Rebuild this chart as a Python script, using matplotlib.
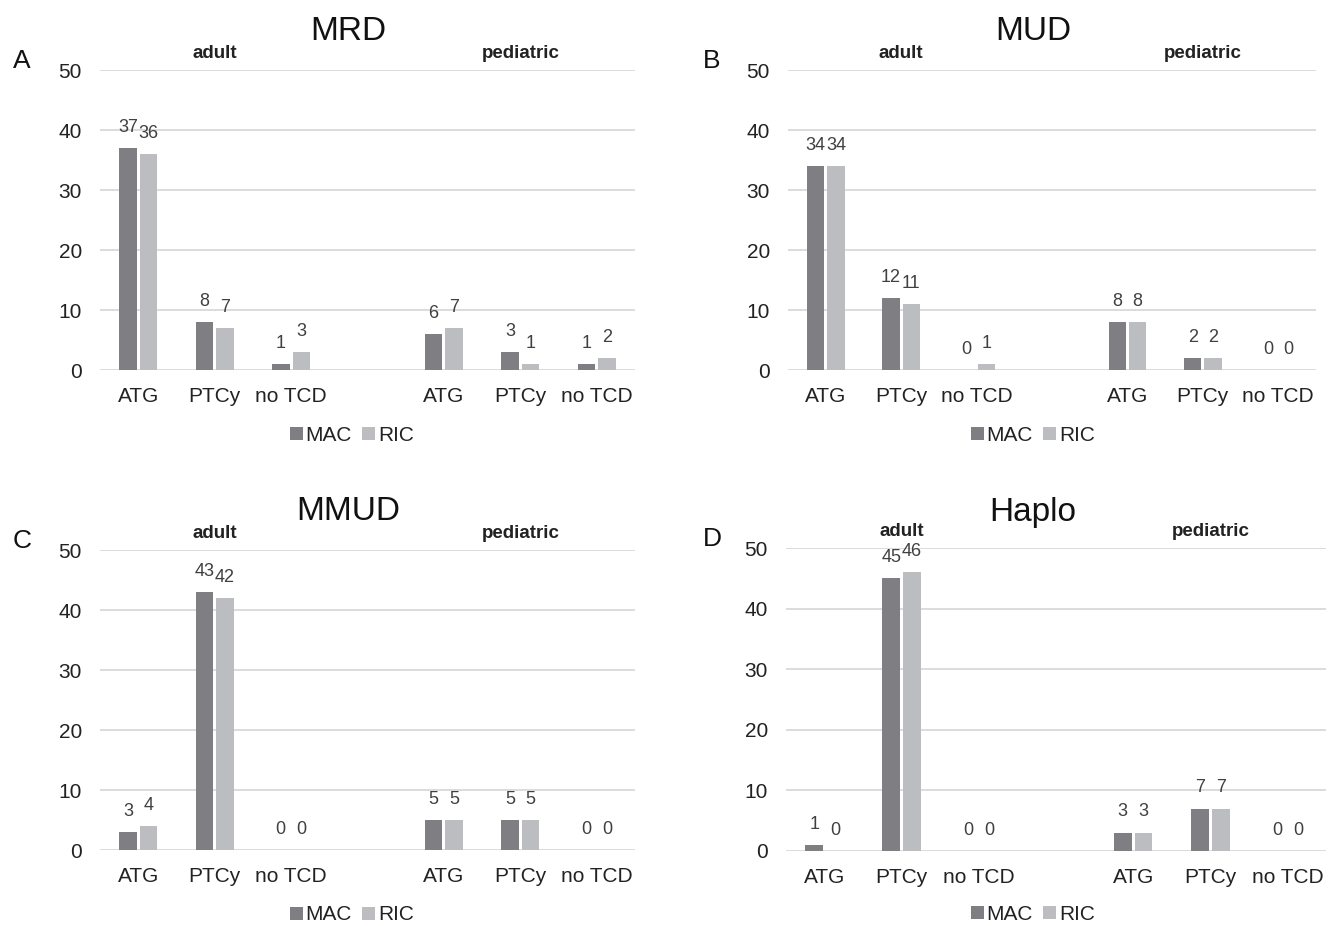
import numpy as np
import matplotlib
matplotlib.use('Agg')
import matplotlib.pyplot as plt

plt.rcParams['font.family'] = ['Liberation Sans', 'DejaVu Sans']

# data
categories = ['ATG', 'PTCy', 'no TCD', '', 'ATG', 'PTCy', 'no TCD']
groups = ['adult', 'pediatric']
series = ['MAC', 'RIC']
titles = ['MRD', 'MUD', 'MMUD', 'Haplo']
letters = ['A', 'B', 'C', 'D']

mrd_mac = [37, 8, 1, None, 6, 3, 1]
mrd_ric = [36, 7, 3, None, 7, 1, 2]
mud_mac = [34, 12, 0, None, 8, 2, 0]
mud_ric = [34, 11, 1, None, 8, 2, 0]
mmud_mac = [3, 43, 0, None, 5, 5, 0]
mmud_ric = [4, 42, 0, None, 5, 5, 0]
haplo_mac = [1, 45, 0, None, 3, 7, 0]
haplo_ric = [0, 46, 0, None, 3, 7, 0]

panel_data = [(mrd_mac, mrd_ric), (mud_mac, mud_ric),
              (mmud_mac, mmud_ric), (haplo_mac, haplo_ric)]

c_mac = '#7f7f83'
c_ric = '#bcbdc1'
grid_c = '#d9d9d9'
txt_c = '#222222'

W, H = 1330, 926
fig = plt.figure(figsize=(W / 100, H / 100), dpi=100)

# axes boxes in pixels: left, right, y of 0, y of 50
boxes = [(100, 635, 370, 70), (788, 1316, 370, 70),
         (100, 635, 850, 550), (786, 1326, 851, 548)]
# title / legend / letter positions (pixels)
title_pos = [(348, 31), (1033, 31), (348, 511), (1033, 512)]
legend_pos = [(352, 435), (1033, 435), (352, 915), (1033, 914)]
letter_pos = [(22, 61), (712, 61), (22, 541), (712, 539)]

x = np.arange(len(categories))
bw = 0.23
off = 0.135

for i, (mac, ric) in enumerate(panel_data):
    l, r, y0, y50 = boxes[i]
    ax = fig.add_axes([l / W, (H - y0) / H, (r - l) / W, (y0 - y50) / H])
    idx = [k for k in range(len(categories)) if mac[k] is not None]
    vm = [mac[k] for k in idx]
    vr = [ric[k] for k in idx]
    xi = np.array(idx, dtype=float)
    b1 = ax.bar(xi - off, vm, bw, color=c_mac, label='MAC', zorder=3)
    b2 = ax.bar(xi + off, vr, bw, color=c_ric, label='RIC', zorder=3)
    for xx, v in zip(xi - off, vm):
        ax.annotate(str(v), (xx, v), xytext=(0, 15), textcoords='offset points',
                    ha='center', va='center', fontsize=13, color='#404040')
    for xx, v in zip(xi + off, vr):
        ax.annotate(str(v), (xx, v), xytext=(0, 15), textcoords='offset points',
                    ha='center', va='center', fontsize=13, color='#404040')

    ax.set_xlim(-0.5, len(categories) - 0.5)
    ax.set_ylim(0, 50)
    ax.set_yticks([0, 10, 20, 30, 40, 50])
    ax.set_xticks(x)
    ax.set_xticklabels(categories)
    ax.tick_params(axis='both', length=0, labelsize=15, colors=txt_c)
    ax.tick_params(axis='x', pad=12)
    ax.tick_params(axis='y', pad=13)
    ax.yaxis.grid(True, color=grid_c, linewidth=1.3, zorder=0)
    ax.set_axisbelow(True)
    for s in ax.spines.values():
        s.set_visible(False)

    # group labels
    ax.text(1, 1 + 17 / (y0 - y50), groups[0], transform=ax.get_xaxis_transform(),
            ha='center', va='center', fontsize=13.5, fontweight='bold', color=txt_c)
    ax.text(5, 1 + 17 / (y0 - y50), groups[1], transform=ax.get_xaxis_transform(),
            ha='center', va='center', fontsize=13.5, fontweight='bold', color=txt_c)

    tx, ty = title_pos[i]
    fig.text(tx / W, 1 - ty / H, titles[i], ha='center', va='center', fontsize=24, color='#111111')
    lx, ly = letter_pos[i]
    fig.text(lx / W, 1 - ly / H, letters[i], ha='center', va='center', fontsize=19, color='#111111')
    gx, gy = legend_pos[i]
    fig.legend(handles=[b1, b2], labels=series, loc='center', ncol=2,
               bbox_to_anchor=(gx / W, 1 - gy / H), frameon=False, fontsize=15,
               handlelength=0.6, handleheight=0.6, handletextpad=0.15,
               columnspacing=0.5, borderaxespad=0, labelcolor=txt_c)

fig.savefig('out.png', dpi=100)
